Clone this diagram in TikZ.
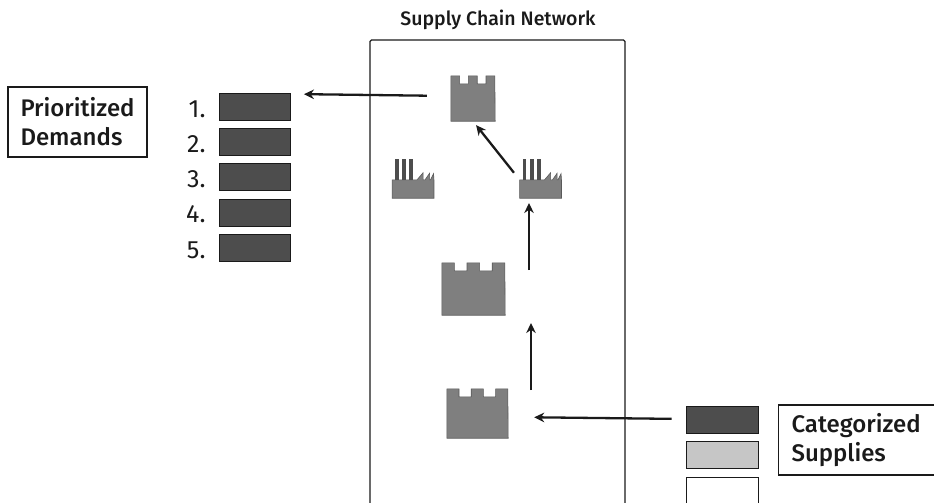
\documentclass[tikz,border=0pt]{standalone}
\usepackage{fontspec}
\setmainfont[BoldFont={Fira Sans Medium}]{Fira Sans}
\usetikzlibrary{arrows.meta, positioning}
\definecolor{ink}{HTML}{1A1A1A}
\definecolor{darkbar}{HTML}{4D4D4D}
\definecolor{midbar}{HTML}{C6C6C6}
\definecolor{keepgray}{HTML}{7F7F7F}

% name, centre x, centre y, width, height
\newcommand{\keep}[5]{%
  \node[keepbody, minimum width=#4pt, minimum height=#5pt] (#1) at (#2,#3) {};
  \fill[keepgray, draw=keepgray!70!black, line width=.6pt] (#1.south west) -- (#1.north west)
    -- ++(#4/5,0) -- ++(0,8) -- ++(#4/5,0) -- ++(0,-8) -- ++(#4/5,0) -- ++(0,8)
    -- ++(#4/5,0) -- ++(0,-8) -- ++(#4/5,0) -- (#1.south east) -- cycle;
}
% name, centre x, centre y of the base
\newcommand{\works}[3]{%
  \node[keepbody, minimum width=41.5pt, minimum height=18pt] (#1) at (#2,#3) {};
  \fill[keepgray, draw=keepgray!70!black, line width=.6pt] (#1.south west) -- (#1.north west)
    -- ++(25,0) -- ++(6,-7) -- ++(0,7) -- ++(2,0) -- ++(4.5,-6.5) -- ++(0,6.5)
    -- ++(1,0) -- ++(3,-6) -- (#1.north east) -- (#1.south east) -- cycle;
  \fill[darkbar] (#1.north west) ++(3.3,0) rectangle ++(3.6,-20.5);
  \fill[darkbar] (#1.north west) ++(10,0) rectangle ++(4,-20.5);
  \fill[darkbar] (#1.north west) ++(17.2,0) rectangle ++(4.2,-20.5);
}

\begin{document}
\begin{tikzpicture}[
    x=1pt, y=-1pt,
    every node/.style={font=\fontsize{23}{29}\selectfont, text=ink},
    tag/.style={rectangle, draw=ink, line width=1.1pt, align=left, inner sep=0pt,
                font=\fontsize{24}{29}\selectfont\bfseries},
    bar/.style={rectangle, draw=ink, line width=.9pt, fill=darkbar,
                minimum width=71pt, minimum height=27pt, inner sep=0pt},
    num/.style={font=\fontsize{25}{29}\selectfont, yshift=-2pt},
    keepbody/.style={rectangle, inner sep=0pt},
    arrow/.style={-{Stealth[length=10pt, width=9.5pt]}, line width=2.3pt, draw=ink},
    frame/.style={draw=ink, line width=1.3pt, rounded corners=1.5pt}
  ]
    \clip (0,0) rectangle (934,503);

    \node[font=\fontsize{19.5}{24}\selectfont\bfseries] (title) at (498,20) {Supply Chain Network};
    \draw[frame] (370,510) -- (370,40) -- (625,40) -- (625,510);

    % demands
    \node[tag, minimum width=139pt, minimum height=70pt,
          text width=114pt] (demands) at (77.5,122) {Prioritized\\Demands};
    \node[bar] (bar1) at (255,107) {};
    \node[bar, below=7.3pt of bar1] (bar2) {};
    \node[bar, below=7.3pt of bar2] (bar3) {};
    \node[bar, below=7.3pt of bar3] (bar4) {};
    \node[bar, below=7.3pt of bar4] (bar5) {};
    \node[num, left=10pt of bar1] (num1) {1.};
    \node[num, left=10pt of bar2] (num2) {2.};
    \node[num, left=10pt of bar3] (num3) {3.};
    \node[num, left=10pt of bar4] (num4) {4.};
    \node[num, left=10pt of bar5] (num5) {5.};

    % network
    \keep{keeptop}{473}{98.5}{44}{45}
    \keep{keepmid}{473.5}{289}{63}{52}
    \keep{keeplow}{477.5}{413.5}{61}{49}
    \works{worksleft}{413}{189}
    \works{worksright}{540.5}{189}

    % supplies
    \node[bar, minimum width=72pt] (sup1) at (722,419.5) {};
    \node[bar, minimum width=72pt, fill=midbar, below=7.6pt of sup1] (sup2) {};
    \node[bar, minimum width=72pt, fill=white, below=7.6pt of sup2] (sup3) {};
    \node[tag, anchor=west, minimum width=170pt, minimum height=70pt,
          text width=144pt] (supplies) at (778,440) {Categorized\\Supplies};

    \coordinate (tailmid) at (529,270);
    \coordinate (tailmidend) at (529,203);
    \coordinate (taillow) at (531,390);
    \coordinate (taillowend) at (531,323);

    \draw[arrow, shorten <=24pt, shorten >=13pt] ([yshift=2.5pt]keeptop.west) -- ([yshift=13pt]bar1.east);
    \draw[arrow, shorten <=9pt, shorten >=5pt] (worksright.north west) -- (keeptop.south);
    \draw[arrow] (tailmid) -- (tailmidend);
    \draw[arrow] (taillow) -- (taillowend);
    \draw[arrow, shorten <=14pt, shorten >=26pt] ([yshift=.5pt]sup1.west) -- ([yshift=-3.5pt]keeplow.east);
\end{tikzpicture}
\end{document}
